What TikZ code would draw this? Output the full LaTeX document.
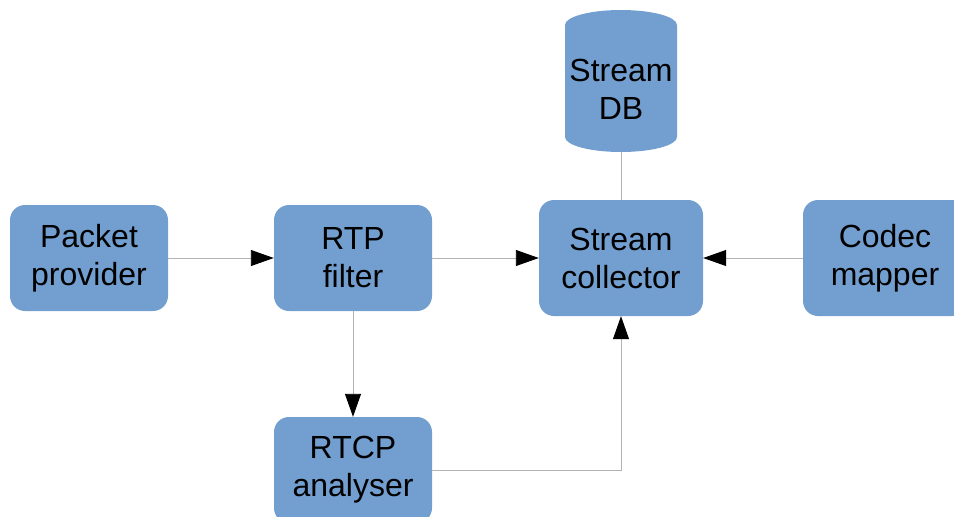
\documentclass[tikz,border=0pt]{standalone}
\usepackage{fontspec}
\setmainfont{Liberation Sans}
\usetikzlibrary{arrows.meta}
\definecolor{boxblue}{HTML}{729FCF}
\definecolor{linegray}{HTML}{B3B3B3}
\begin{document}
\begin{tikzpicture}[x=1pt,y=1pt,
  box/.style={fill=boxblue, rounded corners=15pt, inner sep=0pt, align=center,
    font=\fontsize{32}{38}\selectfont, minimum width=158pt, minimum height=106pt},
  conn/.style={draw=linegray, line width=0.9pt},
  arr/.style={conn, -{Triangle[length=23pt,width=16pt,color=black]}}]
\useasboundingbox (0,0) rectangle (954,-517);
\node[box] (pp) at (89,-258) {Packet\\provider};
\node[box] (rtp) at (353,-258) {RTP\\filter};
\node[box, minimum width=164pt, minimum height=116pt] (sc) at (621,-258) {Stream\\collector};
\node[box, minimum width=164pt, minimum height=116pt] (cm) at (885,-258) {Codec\\mapper};
\node[box] (rtcp) at (353,-470) {RTCP\\analyser};
\fill[boxblue] (565,-25) -- (565,-137) arc[start angle=180,end angle=360,x radius=56,y radius=15]
  -- (677,-25) arc[start angle=0,end angle=180,x radius=56,y radius=15] -- cycle;
\node[inner sep=0pt, minimum width=112pt, minimum height=126pt, align=center,
  font=\fontsize{32}{38}\selectfont] (db) at (621,-89) {Stream\\DB};
\draw[conn] (db.south) -- (sc.north);
\draw[arr] (pp.east) -- (rtp.west);
\draw[arr] (rtp.east) -- (sc.west);
\draw[arr] (cm.west) -- (sc.east);
\draw[arr] (rtp.south) -- (rtcp.north);
\draw[arr] (rtcp.east) -| (sc.south);
\end{tikzpicture}
\end{document}
